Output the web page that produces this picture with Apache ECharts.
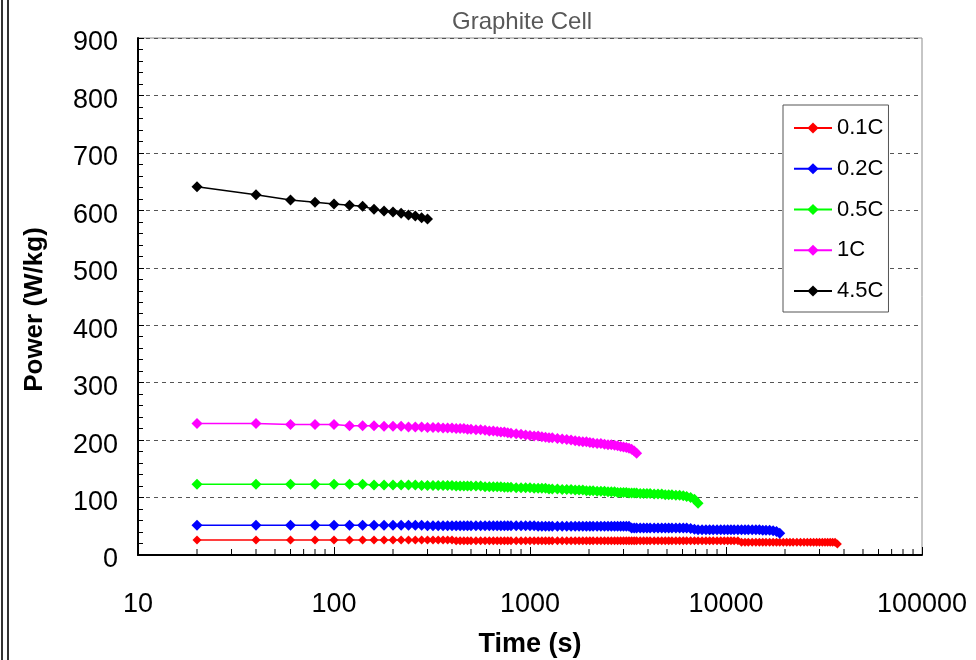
<!DOCTYPE html>
<html>
<head>
<meta charset="utf-8">
<title>Graphite Cell</title>
<script src="https://cdn.jsdelivr.net/npm/echarts@6/dist/echarts.min.js"></script>
<style>
  html, body { margin: 0; padding: 0; background: #fff; overflow: hidden; }
  #chart { position: absolute; left: 0; top: 0; width: 976px; height: 660px; }
  .frame { position: absolute; top: 0; height: 660px; width: 2px; background: #333; }
</style>
</head>
<body>
<div id="chart"></div>
<div class="frame" style="left:1px"></div>
<div class="frame" style="left:7px"></div>
<script>
// Sample times (s) shared by every discharge curve
const timeS = [
  20, 40, 60, 80, 100, 120, 140, 160, 180, 200, 220, 240, 260, 280, 300,
  320, 340, 360, 380, 400, 420, 440, 460, 480, 500,
  530, 560, 590, 620, 650, 680, 710, 740, 770, 800,
  850, 900, 950, 1000, 1050, 1100, 1150, 1200, 1250, 1300,
  1380, 1460, 1540, 1620, 1700, 1780, 1860, 1940, 2020, 2100,
  2200, 2300, 2400, 2500, 2600, 2700, 2800, 2900, 3000, 3100,
  3200, 3300, 3400, 3500,
  3650, 3800, 3950, 4100, 4300, 4500, 4700, 4900, 5100, 5300,
  5550, 5800, 6050, 6300, 6600, 6900, 7200,
  7550, 7900, 8250, 8600, 9000, 9400, 9800, 10200, 10600, 11000,
  11500, 12000, 12500, 13000, 13600, 14200, 14800, 15400, 16000, 16700, 17400, 18100,
  18800,
  19600, 20400, 21200, 22000, 23000, 24000, 25000, 26000, 27000, 28000,
  29000, 30000, 31000, 32000, 33000, 34000, 35000, 36000, 37000
];

// Power (W/kg) at each sample time, one array per C-rate
const power01C = [
  26, 26, 26, 26, 26, 26, 26, 26, 26, 26,
  26, 26, 26, 26, 26, 26, 26, 26, 26, 26,
  25, 25, 25, 25, 25, 25, 25, 25, 25, 25,
  25, 25, 25, 25, 25, 25, 25, 25, 25, 25,
  25, 25, 25, 25, 25, 25, 25, 25, 25, 25,
  25, 25, 25, 25, 25, 25, 25, 25, 25, 25,
  25, 25, 25, 25, 25, 25, 25, 25, 25, 25,
  25, 25, 25, 25, 25, 25, 25, 25, 25, 25,
  25, 25, 25, 25, 25, 25, 25, 25, 25, 25,
  25, 25, 25, 25, 25, 25, 25, 22, 22, 22,
  22, 22, 22, 22, 22, 22, 22, 22, 22, 22,
  22, 22, 22, 22, 22, 22, 22, 22, 22, 22,
  22, 22, 22, 22, 22, 22, 22, 19
];
const power02C = [
  52, 52, 52, 52, 52, 52, 52, 52, 52, 52,
  52, 52, 52, 52, 51, 51, 51, 51, 51, 51,
  51, 51, 51, 51, 51, 51, 51, 51, 51, 51,
  51, 51, 51, 51, 51, 51, 51, 51, 51, 51,
  50, 50, 50, 50, 50, 50, 50, 50, 50, 50,
  50, 50, 50, 50, 50, 50, 50, 50, 50, 50,
  50, 50, 50, 50, 50, 50, 47, 47, 47, 47,
  47, 47, 47, 47, 47, 47, 47, 47, 47, 47,
  47, 47, 47, 46, 45, 44, 44, 44, 44, 44,
  44, 44, 44, 44, 44, 44, 44, 44, 44, 44,
  44, 44, 44, 43, 43, 43, 42, 41, 38
];
const power05C = [
  123, 123, 123, 123, 123, 123, 123, 122, 122, 122, 122, 122, 122, 121, 121,
  121, 121, 121, 121, 121, 120, 120, 120, 120, 120,
  120, 120, 119, 119, 119, 119, 119, 118, 118, 118,
  117, 117, 117, 117, 116, 116, 116, 116, 115, 115,
  115, 114, 114, 114, 113, 113, 113, 112, 112, 112,
  111, 111, 111, 110, 110, 110, 109, 109, 109, 109,
  108, 108, 108, 108,
  107, 107, 107, 107, 106, 106, 106, 105, 105, 105,
  104, 104, 103, 102, 100, 97, 90
];
const power1C = [
  229, 229, 227, 227, 227, 225, 225, 225, 224, 224, 224, 223, 223, 223, 222,
  222, 222, 221, 221, 221, 220, 220, 220, 219, 219,
  218, 218, 217, 216, 216, 215, 214, 214, 213, 212,
  211, 210, 209, 208, 207, 207, 206, 205, 204, 204,
  203, 202, 201, 200, 199, 198, 197, 197, 196, 195,
  194, 194, 193, 192, 192, 191, 190, 189, 188, 187,
  186, 184, 181, 177
];
const power45C = [641, 627, 618, 614, 611, 609, 607, 602, 599, 597, 595, 592, 590, 587, 585];

const seriesNames = ['0.1C', '0.2C', '0.5C', '1C', '4.5C'];
const seriesValues = [power01C, power02C, power05C, power1C, power45C];
const seriesColors = ['#ff0000', '#0000ff', '#00ff00', '#ff00ff', '#000000'];
const symbolSizes = [9, 11, 11, 11, 11];

const yTicks = [0, 100, 200, 300, 400, 500, 600, 700, 800, 900];

// Minor ticks of the logarithmic time axis (2..9 within each decade)
const minorTickTimes = [];
for (let decade = 10; decade < 100000; decade *= 10) {
  for (let m = 2; m <= 9; m++) minorTickTimes.push([m * decade, 0]);
}

const FONT = '"Liberation Sans", Arial, sans-serif';

const lineSeries = seriesNames.map((name, i) => ({
  name: name,
  type: 'line',
  data: seriesValues[i].map((v, k) => [timeS[k], v]),
  symbol: 'diamond',
  symbolSize: symbolSizes[i],
  showSymbol: true,
  showAllSymbol: true,
  color: seriesColors[i],
  itemStyle: { color: seriesColors[i] },
  lineStyle: { color: seriesColors[i], width: 1.5 },
  emphasis: { disabled: true },
  z: 3
}));

const tickSeries = {
  name: 'minorTicks',
  type: 'custom',
  data: minorTickTimes,
  silent: true,
  clip: false,
  z: 5,
  renderItem: function (params, api) {
    const p = api.coord([api.value(0), 0]);
    return {
      type: 'line',
      shape: { x1: p[0], y1: p[1], x2: p[0], y2: p[1] - 6 },
      style: { stroke: '#000', lineWidth: 1 }
    };
  }
};

const chart = echarts.init(document.getElementById('chart'), null, { renderer: 'canvas' });
chart.setOption({
  animation: false,
  backgroundColor: '#ffffff',
  title: {
    text: 'Graphite Cell',
    left: 447,
    top: 5,
    textStyle: { fontFamily: FONT, fontSize: 24, fontWeight: 'normal', color: '#595959' }
  },
  grid: {
    left: 138, right: 54, top: 38, bottom: 105,
    containLabel: false,
    outerBoundsMode: 'none',
    show: true, borderColor: '#8c8c8c', borderWidth: 1, backgroundColor: 'transparent'
  },
  legend: {
    data: seriesNames,
    orient: 'vertical',
    left: 783,
    top: 105,
    padding: [12, 5, 10, 10],
    itemWidth: 38,
    itemHeight: 14,
    itemGap: 18.75,
    borderColor: '#555',
    borderWidth: 1,
    backgroundColor: '#fff',
    textStyle: { fontFamily: FONT, fontSize: 22, color: '#000' }
  },
  xAxis: {
    type: 'log',
    logBase: 10,
    min: 10,
    max: 100000,
    name: 'Time (s)',
    nameLocation: 'middle',
    nameGap: 76,
    nameTextStyle: { fontFamily: FONT, fontSize: 27, fontWeight: 'bold', color: '#000' },
    axisLine: { show: true, onZero: false, lineStyle: { color: '#000', width: 2 } },
    axisTick: { show: true, inside: true, length: 8, lineStyle: { color: '#000', width: 1 } },
    minorTick: { show: false },
    splitLine: { show: false },
    axisLabel: {
      fontFamily: FONT, fontSize: 27, color: '#000', margin: 36,
      formatter: function (v) { return String(Math.round(v)); }
    }
  },
  yAxis: {
    type: 'value',
    min: yTicks[0],
    max: yTicks[yTicks.length - 1],
    interval: yTicks[1] - yTicks[0],
    name: 'Power (W/kg)',
    nameLocation: 'middle',
    nameGap: 90,
    nameTextStyle: { fontFamily: FONT, fontSize: 26, fontWeight: 'bold', color: '#000', padding: [0, 26, 0, 0] },
    axisLine: { show: true, lineStyle: { color: '#000', width: 2 } },
    axisTick: { show: true, inside: true, length: 6, lineStyle: { color: '#000', width: 1 } },
    minorTick: { show: true, splitNumber: 5, length: 5, lineStyle: { color: '#000', width: 1 } },
    splitLine: { show: true, lineStyle: { color: '#555', type: [4, 4], width: 1 } },
    axisLabel: {
      margin: 20,
      formatter: function (v) { return '{t|' + v + '}'; },
      rich: { t: { fontFamily: FONT, fontSize: 27, color: '#000', padding: [10, 0, 0, 0] } }
    }
  },
  series: lineSeries.concat([tickSeries])
});
</script>
</body>
</html>
